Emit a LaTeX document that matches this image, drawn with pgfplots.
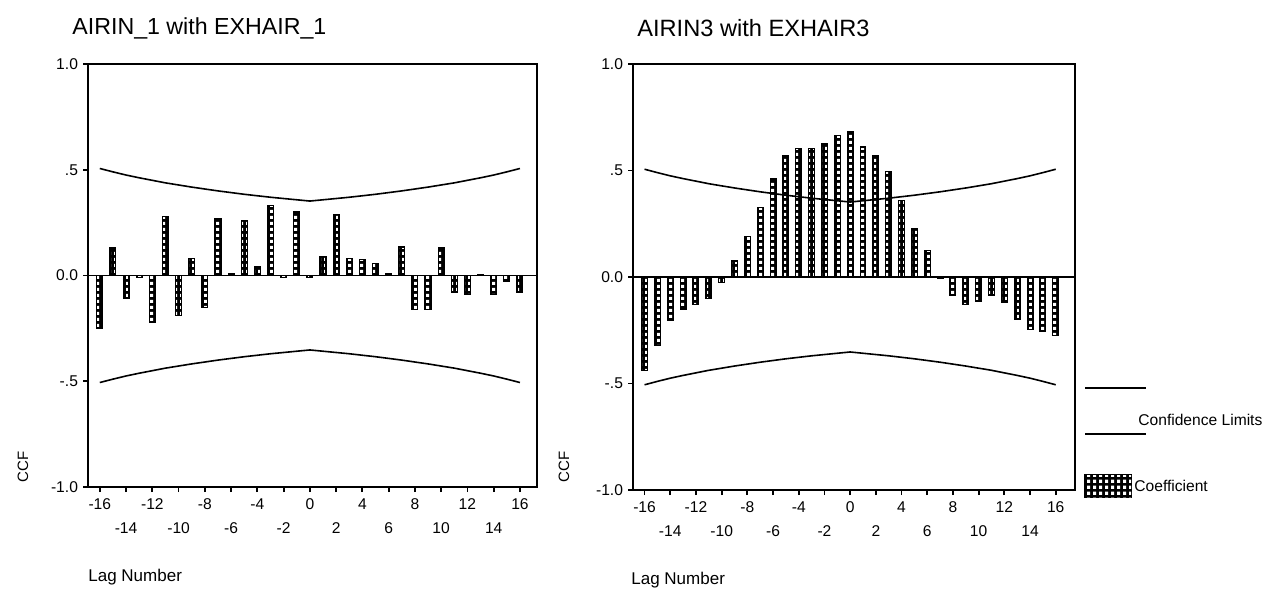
\documentclass[border=0pt]{standalone}
\usepackage{pgfplots}
\pgfplotsset{compat=1.18}
\usepackage{pgfplotstable}
\usepackage{fontspec}
\setmainfont{Liberation Sans}
\usetikzlibrary{patterns,patterns.meta}

\pgfdeclarepattern{name=wsq, type=uncolored,
  bottom left={\pgfpoint{0pt}{0pt}}, top right={\pgfpoint{2.8pt}{2.8pt}},
  tile size={\pgfpoint{2.8pt}{2.8pt}},
  code={\pgfpathrectangle{\pgfpoint{0.6pt}{0.6pt}}{\pgfpoint{1.6pt}{1.6pt}}\pgfusepath{fill}}}

\pgfplotstableread{
lag ccf
-16 -0.25
-15 0.13
-14 -0.11
-13 -0.01
-12 -0.22
-11 0.28
-10 -0.19
-9 0.08
-8 -0.15
-7 0.27
-6 0.01
-5 0.26
-4 0.04
-3 0.33
-2 -0.01
-1 0.30
0 -0.01
1 0.09
2 0.29
3 0.08
4 0.075
5 0.055
6 0.01
7 0.135
8 -0.16
9 -0.16
10 0.13
11 -0.08
12 -0.09
13 0.005
14 -0.09
15 -0.03
16 -0.08
}\ccfA

\pgfplotstableread{
lag ccf
-16 -0.44
-15 -0.32
-14 -0.205
-13 -0.15
-12 -0.13
-11 -0.10
-10 -0.025
-9 0.075
-8 0.19
-7 0.325
-6 0.46
-5 0.57
-4 0.605
-3 0.605
-2 0.625
-1 0.665
0 0.685
1 0.61
2 0.57
3 0.495
4 0.36
5 0.225
6 0.125
7 -0.005
8 -0.085
9 -0.13
10 -0.115
11 -0.085
12 -0.12
13 -0.20
14 -0.245
15 -0.255
16 -0.275
}\ccfB

\pgfplotstableread{
lag up lo
-16 0.506 -0.506
-15 0.490 -0.490
-14 0.475 -0.475
-13 0.462 -0.462
-12 0.450 -0.450
-11 0.438 -0.438
-10 0.428 -0.428
-9 0.418 -0.418
-8 0.409 -0.409
-7 0.400 -0.400
-6 0.392 -0.392
-5 0.384 -0.384
-4 0.377 -0.377
-3 0.370 -0.370
-2 0.364 -0.364
-1 0.358 -0.358
0 0.352 -0.352
1 0.358 -0.358
2 0.364 -0.364
3 0.370 -0.370
4 0.377 -0.377
5 0.384 -0.384
6 0.392 -0.392
7 0.400 -0.400
8 0.409 -0.409
9 0.418 -0.418
10 0.428 -0.428
11 0.438 -0.438
12 0.450 -0.450
13 0.462 -0.462
14 0.475 -0.475
15 0.490 -0.490
16 0.506 -0.506
}\conf

\pgfplotsset{
  ccfstyle/.style={
    scale only axis,
    ymin=-1, ymax=1,
    ytick={-1,-0.5,0,0.5,1},
    yticklabels={-1.0,-.5,0.0,.5,1.0},
    xtick={-16,-12,...,16},
    extra x ticks={-14,-10,...,14},
    extra x tick style={xticklabel style={yshift=-12pt}},
    tick align=outside,
    tick pos=left,
    major tick length=2.5pt,
    tick style={black, line width=0.9pt},
    axis line style={line width=1pt},
    tick label style={font=\fontsize{7.8}{9}\selectfont},
    yticklabel style={xshift=1pt},
    /pgf/number format/assume math mode=true,
  },
  ccfbar/.style={ybar, bar width=0.45, draw=black, line width=0.6pt,
    fill=black, postaction={pattern=wsq, pattern color=white}},
  limline/.style={black, line width=0.8pt},
}

\begin{document}
\begin{tikzpicture}[x=1pt,y=1pt]
\useasboundingbox (0,0) rectangle (637.5,295.5);

\begin{axis}[ccfstyle, at={(44pt,52pt)}, anchor=south west,
  width=224.5pt, height=211.5pt, xmin=-16.9, xmax=17.3]
  \addplot[black, line width=0.8pt] coordinates {(-16.9,0) (17.3,0)};
  \addplot[ccfbar] table[x=lag,y=ccf]{\ccfA};
  \addplot[limline] table[x=lag,y=up]{\conf};
  \addplot[limline] table[x=lag,y=lo]{\conf};
\end{axis}

\begin{axis}[ccfstyle, at={(316.5pt,50.5pt)}, anchor=south west,
  width=221pt, height=213pt, xmin=-16.9, xmax=17.5]
  \addplot[black, line width=0.8pt] coordinates {(-16.9,0) (17.5,0)};
  \addplot[ccfbar] table[x=lag,y=ccf]{\ccfB};
  \addplot[limline] table[x=lag,y=up]{\conf};
  \addplot[limline] table[x=lag,y=lo]{\conf};
\end{axis}

% titles
\node[anchor=west, font=\fontsize{11.6}{13}\selectfont, inner sep=0pt] at (36,281.5) {AIRIN\_1 with EXHAIR\_1};
\node[anchor=west, font=\fontsize{11.8}{13}\selectfont, inner sep=0pt] at (318.5,281.5) {AIRIN3 with EXHAIR3};

% axis titles
\node[rotate=90, font=\fontsize{7.5}{9}\selectfont, inner sep=0pt] at (11.5,62) {CCF};
\node[rotate=90, font=\fontsize{7.5}{9}\selectfont, inner sep=0pt] at (282,62) {CCF};
\node[anchor=west, font=\fontsize{8.5}{10}\selectfont, inner sep=0pt] at (44,7) {Lag Number};
\node[anchor=west, font=\fontsize{8.5}{10}\selectfont, inner sep=0pt] at (315.5,5.5) {Lag Number};

% legend
\draw[line width=0.8pt] (542.5,101.5) -- (573,101.5);
\draw[line width=0.8pt] (542.5,78.5) -- (573,78.5);
\node[anchor=west, font=\fontsize{7.8}{9}\selectfont, inner sep=0pt] at (569,85.5) {Confidence Limits};
\draw[line width=0.6pt, fill=black, postaction={pattern=wsq, pattern color=white}] (542.5,47) rectangle (565.5,58);
\node[anchor=west, font=\fontsize{7.8}{9}\selectfont, inner sep=0pt] at (567,52.5) {Coefficient};
\end{tikzpicture}
\end{document}
